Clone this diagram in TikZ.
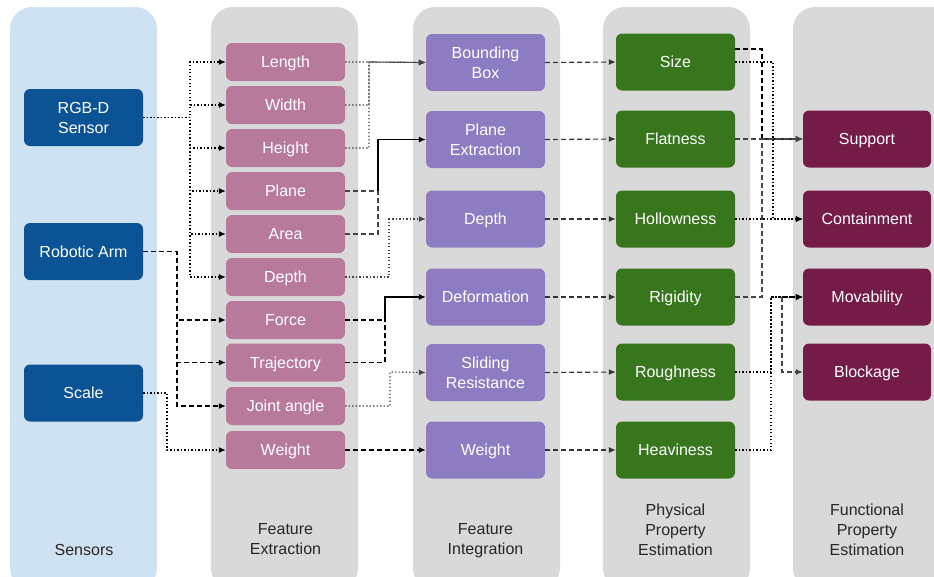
\documentclass[tikz,border=0pt]{standalone}
\usepackage{fontspec}
\setmainfont{Liberation Sans}
\usetikzlibrary{arrows.meta}
\definecolor{sensbg}{HTML}{CFE2F3}
\definecolor{colbg}{HTML}{D9D9D9}
\definecolor{sensfill}{HTML}{0B5394}
\definecolor{featfill}{HTML}{B87A9B}
\definecolor{intfill}{HTML}{8E7CC3}
\definecolor{physfill}{HTML}{38761D}
\definecolor{funcfill}{HTML}{741B47}
\definecolor{linegray}{HTML}{444444}
\begin{document}
\begin{tikzpicture}[x=1pt,y=-1pt,
  box/.style={rounded corners=6pt, minimum width=119pt, minimum height=57pt,
    text=white, font=\fontsize{16}{20}\selectfont, align=center, inner sep=0pt},
  oneline/.style={text height=14pt, text depth=3pt},
  featbox/.style={box, oneline, fill=featfill, minimum height=38pt},
  sensbox/.style={box, fill=sensfill},
  intbox/.style={box, fill=intfill},
  physbox/.style={box, fill=physfill},
  funcbox/.style={box, oneline, fill=funcfill, minimum width=128pt},
  collabel/.style={font=\fontsize{16}{20}\selectfont, align=center, text=black!85},
  conn/.style={line width=1.15pt, -{Latex[length=7pt,width=6pt]}},
  dotline/.style={conn, dash pattern=on 1.3pt off 2.2pt},
  dashline/.style={conn, dash pattern=on 5pt off 3pt}
]
\useasboundingbox (0,0) rectangle (934,576);
\clip (0,0) rectangle (934,576);

% column backgrounds
\fill[sensbg, rounded corners=22pt] (10,7) rectangle (157,590);
\fill[colbg, rounded corners=22pt] (211,7) rectangle (358,590);
\fill[colbg, rounded corners=22pt] (413,7) rectangle (560,590);
\fill[colbg, rounded corners=22pt] (603,7) rectangle (750,590);
\fill[colbg, rounded corners=22pt] (793,7) rectangle (960,590);

% column titles
\node[collabel] (tsens) at (84,550) {Sensors};
\node[collabel] (tfeat) at (285.5,539.5) {Feature\\Extraction};
\node[collabel] (tint) at (485.5,541) {Feature\\Integration};
\node[collabel] (tphys) at (675.5,530) {Physical\\Property\\Estimation};
\node[collabel] (tfunc) at (867,530) {Functional\\Property\\Estimation};

% sensors
\node[sensbox] (rgbd) at (83.5,117.5) {RGB-D\\Sensor};
\node[sensbox, oneline] (arm) at (83.5,251.5) {Robotic Arm};
\node[sensbox, oneline] (scale) at (83.5,393) {Scale};

% extracted features
\node[featbox] (length) at (285.5,62) {Length};
\node[featbox] (width) at (285.5,105) {Width};
\node[featbox] (height) at (285.5,148) {Height};
\node[featbox] (plane) at (285.5,191) {Plane};
\node[featbox] (area) at (285.5,234) {Area};
\node[featbox] (fdepth) at (285.5,277) {Depth};
\node[featbox] (force) at (285.5,320) {Force};
\node[featbox] (traj) at (285.5,362.5) {Trajectory};
\node[featbox] (joint) at (285.5,406) {Joint angle};
\node[featbox] (fweight) at (285.5,450) {Weight};

% integrated features
\node[intbox] (bbox) at (485.5,62.5) {Bounding\\Box};
\node[intbox] (pext) at (485.5,139.5) {Plane\\Extraction};
\node[intbox, oneline] (idepth) at (485.5,219) {Depth};
\node[intbox, oneline] (deform) at (485.5,297) {Deformation};
\node[intbox] (slide) at (485.5,372.5) {Sliding\\Resistance};
\node[intbox, oneline] (iweight) at (485.5,450) {Weight};

% physical properties
\node[physbox, oneline] (size) at (675.5,62) {Size};
\node[physbox, oneline] (flat) at (675.5,139) {Flatness};
\node[physbox, oneline] (hollow) at (675.5,219) {Hollowness};
\node[physbox, oneline] (rigid) at (675.5,297) {Rigidity};
\node[physbox, oneline] (rough) at (675.5,372) {Roughness};
\node[physbox, oneline] (heavy) at (675.5,450) {Heaviness};

% functional properties
\node[funcbox] (support) at (867,139) {Support};
\node[funcbox] (contain) at (867,219) {Containment};
\node[funcbox] (movab) at (867,297) {Movability};
\node[funcbox] (block) at (867,372) {Blockage};

% sensors -> features
\foreach \t in {length,width,height,plane,area,fdepth}
  \draw[dotline] (rgbd.east) -- (190,117.5) |- (\t.west);
\foreach \t in {force,traj,joint}
  \draw[dashline] (arm.east) -- (177,251.5) |- (\t.west);
\draw[dotline] (scale.east) -- (167,393) |- (fweight.west);

% features -> integration
\foreach \s in {length,width,height}
  \draw[dotline, linegray] (\s.east) -| (369,62) -- (bbox.west);
\draw[dashline, linegray, -] (plane.east) -- (378,191);
\draw[dashline, linegray, -] (area.east) -| (378,191);
\draw[conn] (378,191) |- (pext.west);
\draw[dashline, -] (force.east) -- (385,320);
\draw[dashline, -] (traj.east) -| (385,320);
\draw[conn] (385,320) |- (deform.west);
\draw[dotline, linegray] (fdepth.east) -| (389,219) -- (idepth.west);
\draw[dotline, linegray] (joint.east) -| (390,372) -- (slide.west);
\draw[dashline] (fweight.east) -- (iweight.west);

% integration -> physical properties
\draw[dashline, black!80] (bbox.east) -- (size.west);
\draw[dashline, black!80] (pext.east) -- (flat.west);
\draw[dashline, black!80] (idepth.east) -- (hollow.west);
\draw[dashline, black!80] (deform.east) -- (rigid.west);
\draw[dashline, black!80] (slide.east) -- (rough.west);
\draw[dashline, black!80] (iweight.east) -- (heavy.west);

% physical -> functional properties
\draw[dashline] ([yshift=13pt]size.east) -| (762,139) -- (support.west);
\draw[dashline, linegray] (flat.east) -- (support.west);
\draw[dashline, linegray] (rigid.east) -| (762,139) -- (support.west);
\draw[dotline] (size.east) -| (773,219) -- (contain.west);
\draw[dotline] (hollow.east) -- (contain.west);
\draw[dashline] (782,297) -- (movab.west);
\draw[dotline] (rough.east) -| (771,297) -- (movab.west);
\draw[dotline] (heavy.east) -| (771,297) -- (movab.west);
\draw[dashline, linegray] (782,297) |- (block.west);
\end{tikzpicture}
\end{document}
